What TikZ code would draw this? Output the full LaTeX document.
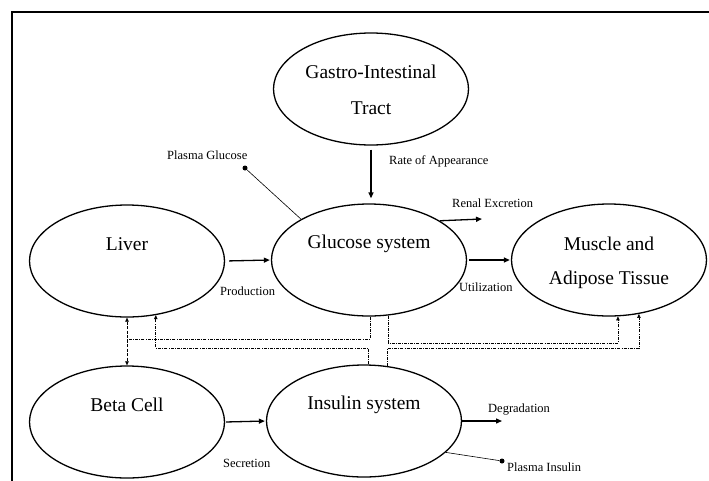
\documentclass[tikz,border=0pt]{standalone}
\usepackage{fontspec}
\setmainfont{Liberation Serif}
\usetikzlibrary{shapes.geometric,arrows.meta}

\begin{document}
\begin{tikzpicture}[x=1pt,y=-1pt,
  compartment/.style={draw,ellipse,line width=1.3pt,minimum width=195pt,minimum height=112pt,inner sep=0pt},
  bigtext/.style={font=\fontsize{19.5}{23}\selectfont,inner sep=0pt},
  smalltext/.style={font=\fontsize{12.5}{14}\selectfont,inner sep=0pt,anchor=west},
  flow/.style={line width=1.3pt,-{Triangle[length=6pt,width=5pt]}},
  feedback/.style={line width=0.6pt,dash pattern=on 3pt off 1.2pt on 0.8pt off 1.2pt},
  fbtip/.style={-{Triangle[length=4pt,width=3.5pt]}},
  probe/.style={line width=0.6pt},
  probedot/.style={circle,fill=black,inner sep=0pt,minimum size=5pt}]

\useasboundingbox (0,0) rectangle (709,480);
\clip (0,0) rectangle (709,480);

% outer frame
\draw[line width=1.5pt] (12,490) -- (12,12) -- (720,12);

% compartments
\node[compartment] (gi)      at (371,89)  {};
\node[compartment] (liver)   at (127,261) {};
\node[compartment] (glucose) at (369,260) {};
\node[compartment] (muscle)  at (609,260) {};
\node[compartment] (beta)    at (127,422) {};
\node[compartment] (insulin) at (364,421) {};

% compartment titles
\node[bigtext] (giA)  at (371,72)  {Gastro-Intestinal};
\node[bigtext] (giB)  at (371,108) {Tract};
\node[bigtext] (livT) at (127,244) {Liver};
\node[bigtext] (gluT) at (369,244) {Glucose system};
\node[bigtext] (musA) at (609,244) {Muscle and};
\node[bigtext] (musB) at (609,280) {Adipose Tissue};
\node[bigtext] (betT) at (127,405) {Beta Cell};
\node[bigtext] (insT) at (364,405) {Insulin system};

% free ends of outflows and measurement probes
\coordinate (renalEnd) at (482,219);
\coordinate (degEnd)   at (502,421);
\node[probedot] (pgDot) at (245,168) {};
\node[probedot] (piDot) at (502,461) {};

% mass flows
\draw[flow,shorten <=4pt,shorten >=5pt] (gi.south) -- (gi.south |- glucose.north);
\draw[flow,shorten <=4pt,shorten >=1pt] (liver.east) -- (glucose.west);
\draw[flow,shorten <=2pt,shorten >=1pt] (glucose.east) -- (muscle.west);
\draw[flow] (glucose.29) -- (renalEnd);
\draw[flow,shorten <=1pt,shorten >=1pt] (beta.east) -- (insulin.west);
\draw[flow] (insulin.east) -- (degEnd);

% probes
\draw[probe] (glucose.149) -- (pgDot);
\draw[probe] (insulin.-21) -- (piDot);

% flow labels
\node[smalltext] (lRa)   at (389,161) {Rate of Appearance};
\node[smalltext] (lPG)   at (167,155) {Plasma Glucose};
\node[smalltext] (lRen)  at (452,203) {Renal Excretion};
\node[smalltext] (lProd) at (220,291) {Production};
\node[smalltext] (lUtil) at (459,287) {Utilization};
\node[smalltext] (lDeg)  at (488,410) {Degradation};
\node[smalltext] (lSec)  at (223,463) {Secretion};
\node[smalltext] (lPI)   at (507,467) {Plasma Insulin};

% control rails
\coordinate (railA) at (0,339);
\coordinate (railB) at (0,343);
\coordinate (railC) at (0,348);

% liver <-> beta cell
\draw[line width=0.6pt,dash pattern=on 3pt off 1.5pt,
      {Triangle[length=4pt,width=3.5pt]}-{Triangle[length=4pt,width=3.5pt]}]
  (liver.south) -- (beta.north);

% glucose signal to liver / beta cell
\draw[feedback] (glucose.-89) -- (glucose.-89 |- railA) -- (railA -| liver.south);
% glucose signal to muscle
\draw[feedback,fbtip] (glucose.-71) -- (glucose.-71 |- railB) -| (muscle.-81);
% insulin action on liver
\draw[feedback,fbtip] (insulin.86) -- (insulin.86 |- railC) -| (liver.-62);
% insulin action on muscle
\draw[feedback,fbtip] (insulin.67) -- (insulin.67 |- railC) -| (muscle.-61);

\end{tikzpicture}
\end{document}
